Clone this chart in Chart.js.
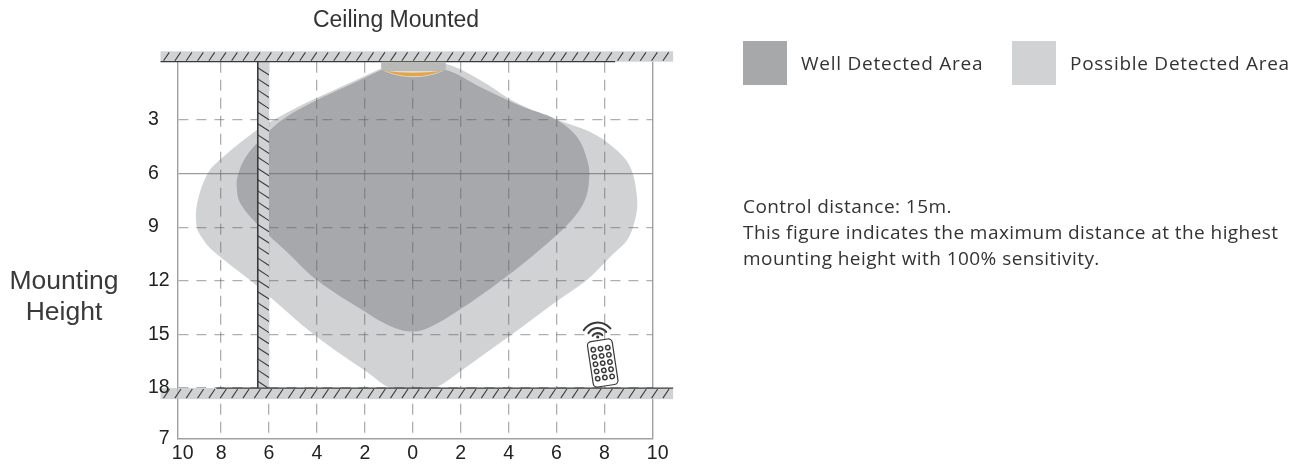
<!DOCTYPE html>
<html><head><meta charset="utf-8">
<script src="https://cdn.jsdelivr.net/npm/chart.js@4"></script>
<style>
html,body{margin:0;padding:0;background:#fff;width:1298px;height:464px;overflow:hidden}
canvas{position:absolute;left:0;top:0}
.t{position:absolute;white-space:nowrap;color:#333;font-family:"Open Sans",sans-serif}
.sw{position:absolute;width:44px;height:44px;top:41px}
</style></head><body>
<canvas id="c" width="1298" height="464"></canvas>
<div class="t" style="left:0;width:792px;text-align:center;top:6px;font:23px 'Liberation Sans',sans-serif;color:#333">Ceiling Mounted</div>
<div class="t" style="left:0;width:128px;text-align:center;top:265px;font:26.5px/31px 'Liberation Sans',sans-serif;color:#3a3a3a">Mounting<br>Height</div>
<div class="sw" style="left:743px;background:#a7a8aa"></div>
<div class="t" style="left:801px;top:50px;font-size:19px;letter-spacing:.75px">Well Detected Area</div>
<div class="sw" style="left:1012px;background:#d1d2d4"></div>
<div class="t" style="left:1070px;top:50px;font-size:19px;letter-spacing:.73px">Possible Detected Area</div>
<div class="t" style="left:743px;top:193px;font-size:19px;line-height:26px;letter-spacing:.44px">Control distance: 15m.<br>This figure indicates the maximum distance at the highest<br>mounting height with 100% sensitivity.</div>
<script>
const xTickValues=[-9.83,-8,-6,-4,-2,0,2,4,6,8,10];
const xTickLabels=["  10","8","6","4","2","0","2","4","6","8","  10"];
const yTickValues=[3,6,9,12,15,18,20.85];
const yTickLabels=["3","6","9","12","15","18","  7"];
const wellX=[-1.32,-2.83,-4.0,-5.33,-6.29,-7.0,-7.3,-7.35,-7.21,-6.46,-5.25,-4.01,-1.99,-0.95,-0.11,0.64,2.0,3.72,5.44,6.64,7.19,7.36,7.32,6.86,5.94,4.61,2.81,1.39,0,-1.32];
const wellH=[0.21,1.16,1.89,2.89,4.01,5.13,6.1,6.74,7.65,8.88,10.39,11.96,13.73,14.53,14.84,14.64,13.58,11.96,10.11,8.6,7.48,6.36,5.41,3.96,2.95,2.28,1.16,0.21,0.2,0.21];
const possibleX=[-1.28,-2.83,-4.0,-4.7,-5.96,-6.5,-7.92,-8.55,-9.0,-9.02,-8.8,-8.38,-6.46,-4.01,-1.91,-0.95,0,1.0,2.0,3.98,5.98,7.27,8.32,8.95,9.28,9.37,9.08,8.36,7.41,5.94,4.27,2.81,1.35,0,-1.28];
const possibleH=[0.1,1.05,1.77,2.22,3.12,3.56,5.08,5.97,7.65,8.98,9.6,10.28,12.33,15.13,17.1,18.0,18.2,17.95,17.05,15.15,13.17,11.96,10.56,9.72,8.6,7.48,5.64,4.52,3.68,2.95,2.0,0.77,-0.13,-0.2,0.1];
const seriesNames=["Well Detected Area","Possible Detected Area"];
const xRange=[-9.83,10];const yRange=[-0.25,20.85];
const wallX=[-6.47,-6.0];
const floorH=[18,18.62];const ceilingH=[-0.83,-0.25];
const barX=[-10.53,10.87];
const ceilingLineEnd=8.45;const floorLineStart=-8.2;
const sensorX=[-1.32,1.38];const sensorH=[-0.25,0.26];
const remoteAt=[7.93,16.6];

const DARK="#a7a8ab",LIGHT="#d1d2d4",LINE="#3a3a3a";
function hatchBand(ctx,x0,y0,x1,y1,step,slope){
  ctx.save();ctx.beginPath();ctx.rect(x0,y0,x1-x0,y1-y0);ctx.clip();
  ctx.strokeStyle="#3c3c3c";ctx.lineWidth=1.1;ctx.beginPath();
  if(slope==='/'){const h=y1-y0;for(let x=x0+3;x<x1;x+=step){ctx.moveTo(x,y1-1);ctx.lineTo(x+h*0.55,y0+1);}}
  else{const w=x1-x0;for(let y=y0+6;y<y1;y+=step){ctx.moveTo(x0,y);ctx.lineTo(x0+w,y+w*0.65);}}
  ctx.stroke();ctx.restore();
}
const fixtures={id:'fixtures',afterDraw(chart){
  const {ctx,scales:{x,y}}=chart;const px=v=>x.getPixelForValue(v),py=v=>y.getPixelForValue(v);
  ctx.save();
  // wall
  const wl=px(wallX[0]),wr=px(wallX[1]),wt=py(ceilingH[1]),wb=py(floorH[0]);
  ctx.fillStyle=LIGHT;ctx.fillRect(wl,wt,wr-wl,wb-wt);
  hatchBand(ctx,wl,wt,wr,wb,11.2,'\\');
  ctx.strokeStyle=LINE;ctx.lineWidth=1.6;ctx.beginPath();ctx.moveTo(wl,wt);ctx.lineTo(wl,wb);ctx.stroke();
  ctx.lineWidth=1.3;
  // ceiling
  const bl=px(barX[0]),br=px(barX[1]);
  ctx.fillStyle=LIGHT;ctx.fillRect(bl,py(ceilingH[0]),br-bl,py(ceilingH[1])-py(ceilingH[0]));
  hatchBand(ctx,bl,py(ceilingH[0]),br,py(ceilingH[1]),11.35,'/');
  ctx.strokeStyle=LINE;ctx.beginPath();ctx.moveTo(bl,py(ceilingH[1]));ctx.lineTo(px(ceilingLineEnd),py(ceilingH[1]));ctx.stroke();
  // floor
  const ft=py(floorH[0]),fb=py(floorH[1]),al=chart.chartArea.left;
  ctx.fillStyle=LIGHT;ctx.fillRect(al,ft,br-al,fb-ft);
  ctx.globalCompositeOperation='multiply';ctx.fillRect(bl,ft,al-bl,fb-ft);ctx.globalCompositeOperation='source-over';
  hatchBand(ctx,bl,ft,br,fb,11.35,'/');
  ctx.strokeStyle=LINE;ctx.beginPath();ctx.moveTo(px(floorLineStart),ft);ctx.lineTo(br,ft);ctx.stroke();
  // sensor
  const sl=px(sensorX[0]),sr=px(sensorX[1]),st=py(sensorH[0]),sb=py(sensorH[1]);
  ctx.fillStyle="#dcdcdc";ctx.beginPath();ctx.moveTo(sl+2,sb);ctx.quadraticCurveTo((sl+sr)/2,sb+13,sr-2,sb);ctx.closePath();ctx.fill();
  ctx.fillStyle="#b9bab8";ctx.beginPath();ctx.moveTo(sl,st);ctx.lineTo(sr,st);ctx.lineTo(sr,sb-3);ctx.quadraticCurveTo(sr,sb,sr-3,sb);ctx.lineTo(sl+3,sb);ctx.quadraticCurveTo(sl,sb,sl,sb-3);ctx.closePath();ctx.fill();
  ctx.fillStyle="#e4a547";ctx.beginPath();ctx.moveTo(sl+3,sb);ctx.quadraticCurveTo((sl+sr)/2,sb+4,sr-3,sb);ctx.quadraticCurveTo((sl+sr)/2,sb+11,sl+3,sb);ctx.closePath();ctx.fill();
  // remote
  const cx=px(remoteAt[0]),cy=py(remoteAt[1]);
  ctx.translate(cx,cy);
  ctx.lineCap='round';
  ctx.strokeStyle=LINE;
  ctx.lineWidth=2;[6,11,16.5].forEach(r=>{ctx.beginPath();ctx.arc(-5,-24,r,-Math.PI*0.82,-Math.PI*0.22);ctx.stroke();});
  ctx.fillStyle=LINE;ctx.beginPath();ctx.arc(-5,-26,1.6,0,7);ctx.fill();
  ctx.rotate(-0.15);
  ctx.fillStyle="#fff";ctx.lineWidth=1.2;
  ctx.beginPath();ctx.roundRect(-12.5,-23,25,46,4);ctx.fill();ctx.stroke();
  ctx.lineWidth=1.5;
  for(let r=0;r<5;r++)for(let c=0;c<3;c++){ctx.beginPath();ctx.arc(-7.3+c*7.3,-14.5+r*7.3,2.2,0,Math.PI*2);ctx.stroke();}
  ctx.restore();
}};
function pts(xs,ys){return xs.map((v,i)=>({x:v,y:ys[i]}));}
new Chart(document.getElementById('c'),{
  type:'scatter',
  data:{datasets:[
    {label:seriesNames[0],data:pts(wellX,wellH),showLine:true,fill:'shape',backgroundColor:DARK,borderColor:DARK,borderWidth:0,pointRadius:0,tension:0.35,clip:false,order:1},
    {label:seriesNames[1],data:pts(possibleX,possibleH),showLine:true,fill:'shape',backgroundColor:LIGHT,borderColor:LIGHT,borderWidth:0,pointRadius:0,tension:0.35,clip:false,order:2}
  ]},
  plugins:[fixtures],
  options:{
    responsive:false,animation:false,devicePixelRatio:1,
    layout:{padding:{left:148,right:645.7,top:61.7,bottom:0}},
    plugins:{legend:{display:false},title:{display:false},tooltip:{enabled:false}},
    scales:{
      x:{type:'linear',min:xRange[0],max:xRange[1],
        afterBuildTicks:s=>{s.ticks=xTickValues.map(v=>({value:v}));},
        afterFit:s=>{s.height=25;},
        grid:{z:1,drawTicks:false,color:c=>{const v=c.tick&&c.tick.value;return v===10?'#a0a0a0':v===xRange[0]?'transparent':'rgba(95,95,95,0.5)';},lineWidth:c=>c.tick&&c.tick.value===10?1.4:1.3},
        border:{color:'#a0a0a0',width:1.4,dash:c=>c.tick&&c.tick.value===10?[]:[11,7],z:2},
        ticks:{autoSkip:false,maxRotation:0,padding:3,color:'#222',font:{family:'Liberation Sans',size:19.5},callback:(v,i)=>xTickLabels[i]}},
      y:{type:'linear',reverse:true,min:yRange[0],max:yRange[1],
        afterBuildTicks:s=>{s.ticks=yTickValues.map(v=>({value:v}));},
        afterFit:s=>{s.width=29.3;},
        grid:{z:1,drawTicks:false,color:c=>{const v=c.tick&&c.tick.value;return v===6?'rgba(105,105,105,0.65)':v===20.85?'transparent':'rgba(95,95,95,0.5)';},lineWidth:1.2},
        border:{color:'#a0a0a0',width:1.4,dash:c=>c.tick&&c.tick.value===6?[]:[10,8],z:2},
        ticks:{z:3,autoSkip:false,crossAlign:'far',padding:0,color:'#222',font:{family:'Liberation Sans',size:19.5},callback:(v,i)=>yTickLabels[i]}}
    }
  }
});
</script></body></html>
